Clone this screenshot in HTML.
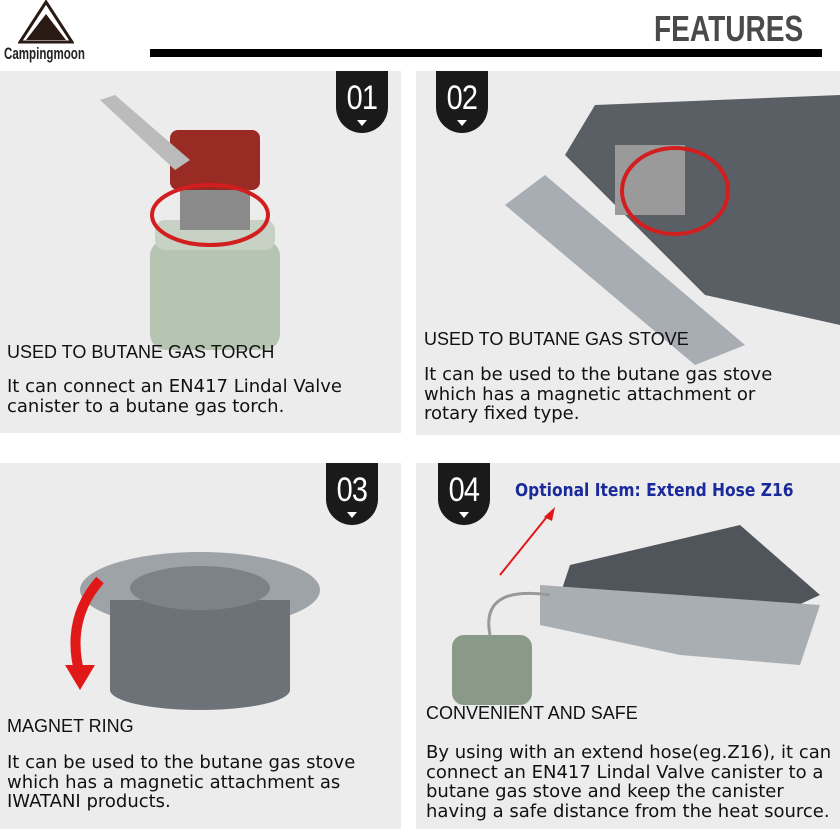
<!DOCTYPE html>
<html><head><style>
body{margin:0;width:840px;height:829px;background:#fff;position:relative;overflow:hidden;font-family:"Liberation Sans","DejaVu Sans",sans-serif}
.p{position:absolute;background:#ececec}
.b{position:absolute;width:52px;height:62px;background:#1a1a1a;border-radius:0 0 26px 26px;color:#fff;font:34px "Liberation Sans",sans-serif;text-align:center;line-height:54px;letter-spacing:-1px}
.b span{display:inline-block;transform:scaleX(0.85)}
.b:after{content:"";position:absolute;left:21px;top:49px;border:5px solid transparent;border-top:6px solid #fff}
.t{position:absolute;font-size:18px;color:#111;line-height:20px;white-space:nowrap}
.d{position:absolute;font:18px "DejaVu Sans",sans-serif;color:#111;line-height:19.5px;white-space:nowrap}
</style></head><body>
<svg style="position:absolute;left:18px;top:0" width="56" height="44"><polygon points="28,2 54,42 2,42" fill="none" stroke="#2a1a14" stroke-width="3"/><polygon points="28,14 48,40 8,40" fill="#2a1a14"/></svg>
<div style="position:absolute;left:4px;top:44px;font:bold 17px 'Liberation Sans',sans-serif;color:#222;transform:scaleX(0.68);transform-origin:0 0">Campingmoon</div>
<div style="position:absolute;left:150px;top:49px;width:672px;height:8px;background:#000"></div>
<div style="position:absolute;left:654px;top:8px;font:bold 36px 'Liberation Sans',sans-serif;color:#4a4a4a;transform:scaleX(0.78);transform-origin:0 0">FEATURES</div>

<div class="p" style="left:0;top:71px;width:401px;height:362px"></div>
<div class="p" style="left:416px;top:71px;width:424px;height:364px"></div>
<div class="p" style="left:0;top:463px;width:401px;height:366px"></div>
<div class="p" style="left:416px;top:463px;width:424px;height:366px"></div>

<svg style="position:absolute;left:90px;top:90px" width="200" height="260">
<rect x="60" y="150" width="130" height="110" rx="16" fill="#b6c4b2"/>
<rect x="65" y="130" width="120" height="30" rx="10" fill="#c8d2c4"/>
<rect x="90" y="100" width="70" height="40" fill="#8a8a8a"/>
<rect x="80" y="40" width="90" height="60" rx="8" fill="#9a2a24"/>
<polygon points="10,10 25,5 100,70 85,80" fill="#bbb"/>
<ellipse cx="120" cy="125" rx="58" ry="30" fill="none" stroke="#d21e1e" stroke-width="4"/>
</svg>
<div class="b" style="left:336px;top:71px"><span>01</span></div>
<div class="t" style="left:7px;top:342px">USED TO BUTANE GAS TORCH</div>
<div class="d" style="left:7px;top:377px">It can connect an EN417 Lindal Valve<br>canister to a butane gas torch.</div>

<svg style="position:absolute;left:505px;top:95px" width="335" height="270">
<polygon points="90,10 335,0 335,230 200,200 60,60" fill="#5a5f66"/>
<polygon points="0,110 40,80 240,250 190,270" fill="#a8adb3"/>
<rect x="110" y="50" width="70" height="70" fill="#9a9a9a"/>
<ellipse cx="170" cy="96" rx="53" ry="43" fill="none" stroke="#d21e1e" stroke-width="4"/>
</svg>
<div class="b" style="left:436px;top:71px"><span>02</span></div>
<div class="t" style="left:424px;top:329px">USED TO BUTANE GAS STOVE</div>
<div class="d" style="left:424px;top:365px">It can be used to the butane gas stove<br>which has a magnetic attachment or<br>rotary fixed type.</div>

<svg style="position:absolute;left:60px;top:540px" width="260" height="170">
<ellipse cx="140" cy="50" rx="120" ry="38" fill="#9ea3a8"/>
<rect x="50" y="60" width="180" height="90" fill="#6d7278"/>
<ellipse cx="140" cy="150" rx="90" ry="20" fill="#6d7278"/>
<ellipse cx="140" cy="48" rx="70" ry="22" fill="#7d8287"/>
<path d="M40,40 Q5,80 20,135" stroke="#e01818" stroke-width="10" fill="none"/>
<polygon points="5,125 35,125 20,150" fill="#e01818"/>
</svg>
<div class="b" style="left:326px;top:463px"><span>03</span></div>
<div class="t" style="left:7px;top:716px">MAGNET RING</div>
<div class="d" style="left:7px;top:753px">It can be used to the butane gas stove<br>which has a magnetic attachment as<br>IWATANI products.</div>

<svg style="position:absolute;left:440px;top:505px" width="400" height="200">
<polygon points="130,60 300,20 380,90 250,150 110,120" fill="#50555c"/>
<polygon points="100,80 380,100 360,160 240,150 100,120" fill="#a9aeb3"/>
<rect x="12" y="130" width="80" height="70" rx="12" fill="#8a9a88"/>
<path d="M50,130 Q40,80 110,90" stroke="#999" stroke-width="3" fill="none"/>
<line x1="60" y1="70" x2="110" y2="8" stroke="#e01818" stroke-width="2"/>
<polygon points="115,2 104,12 112,16" fill="#e01818"/>
</svg>
<div class="b" style="left:438px;top:463px"><span>04</span></div>
<div style="position:absolute;left:515px;top:480px;font:bold 18px 'DejaVu Sans',sans-serif;color:#1a2a9a;transform:scaleX(0.86);transform-origin:0 0;white-space:nowrap">Optional Item: Extend Hose Z16</div>
<div class="t" style="left:426px;top:703px">CONVENIENT AND SAFE</div>
<div class="d" style="left:426px;top:743px">By using with an extend hose(eg.Z16), it can<br>connect an EN417 Lindal Valve canister to a<br>butane gas stove and keep the canister<br>having a safe distance from the heat source.</div>
</body></html>
